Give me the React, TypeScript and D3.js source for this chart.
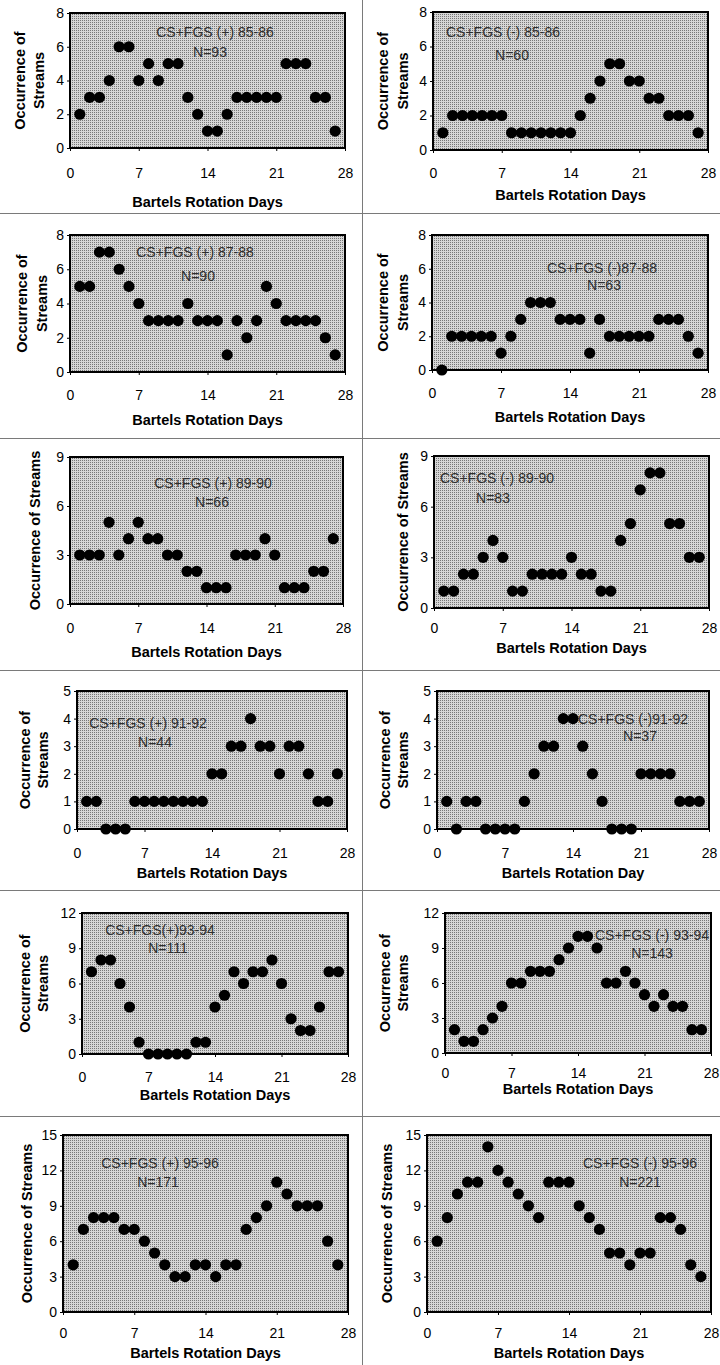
import React, { useRef, useEffect } from "react";
import * as d3 from "d3";

// Bartels rotation days (x values)
const days = [1, 2, 3, 4, 5, 6, 7, 8, 9, 10, 11, 12, 13, 14, 15, 16, 17, 18, 19, 20, 21, 22, 23, 24, 25, 26, 27];
const xTicks = [0, 7, 14, 21, 28];

// occurrence of streams per day
const plus8586 = [2, 3, 3, 4, 6, 6, 4, 5, 4, 5, 5, 3, 2, 1, 1, 2, 3, 3, 3, 3, 3, 5, 5, 5, 3, 3, 1];
const minus8586 = [1, 2, 2, 2, 2, 2, 2, 1, 1, 1, 1, 1, 1, 1, 2, 3, 4, 5, 5, 4, 4, 3, 3, 2, 2, 2, 1];
const plus8788 = [5, 5, 7, 7, 6, 5, 4, 3, 3, 3, 3, 4, 3, 3, 3, 1, 3, 2, 3, 5, 4, 3, 3, 3, 3, 2, 1];
const minus8788 = [0, 2, 2, 2, 2, 2, 1, 2, 3, 4, 4, 4, 3, 3, 3, 1, 3, 2, 2, 2, 2, 2, 3, 3, 3, 2, 1];
const plus8990 = [3, 3, 3, 5, 3, 4, 5, 4, 4, 3, 3, 2, 2, 1, 1, 1, 3, 3, 3, 4, 3, 1, 1, 1, 2, 2, 4];
const minus8990 = [1, 1, 2, 2, 3, 4, 3, 1, 1, 2, 2, 2, 2, 3, 2, 2, 1, 1, 4, 5, 7, 8, 8, 5, 5, 3, 3];
const plus9192 = [1, 1, 0, 0, 0, 1, 1, 1, 1, 1, 1, 1, 1, 2, 2, 3, 3, 4, 3, 3, 2, 3, 3, 2, 1, 1, 2];
const minus9192 = [1, 0, 1, 1, 0, 0, 0, 0, 1, 2, 3, 3, 4, 4, 3, 2, 1, 0, 0, 0, 2, 2, 2, 2, 1, 1, 1];
const plus9394 = [7, 8, 8, 6, 4, 1, 0, 0, 0, 0, 0, 1, 1, 4, 5, 7, 6, 7, 7, 8, 6, 3, 2, 2, 4, 7, 7];
const minus9394 = [2, 1, 1, 2, 3, 4, 6, 6, 7, 7, 7, 8, 9, 10, 10, 9, 6, 6, 7, 6, 5, 4, 5, 4, 4, 2, 2];
const plus9596 = [4, 7, 8, 8, 8, 7, 7, 6, 5, 4, 3, 3, 4, 4, 3, 4, 4, 7, 8, 9, 11, 10, 9, 9, 9, 6, 4];
const minus9596 = [6, 8, 10, 11, 11, 14, 12, 11, 10, 9, 8, 11, 11, 11, 9, 8, 7, 5, 5, 4, 5, 5, 8, 8, 7, 4, 3];

const seriesList = [plus8586, minus8586, plus8788, minus8788, plus8990, minus8990, plus9192, minus9192, plus9394, minus9394, plus9596, minus9596];
const labels = [
    "CS+FGS (+) 85-86", "CS+FGS (-) 85-86",
    "CS+FGS (+) 87-88", "CS+FGS (-)87-88",
    "CS+FGS (+) 89-90", "CS+FGS (-) 89-90",
    "CS+FGS (+) 91-92", "CS+FGS (-)91-92",
    "CS+FGS(+)93-94", "CS+FGS (-) 93-94",
    "CS+FGS (+) 95-96", "CS+FGS (-) 95-96",
];
const counts = ["N=93", "N=60", "N=90", "N=63", "N=66", "N=83", "N=44", "N=37", "N=111", "N=143", "N=171", "N=221"];
const yMax = [8, 8, 8, 8, 9, 9, 5, 5, 12, 12, 15, 15];
const yTicks = [
    [0, 2, 4, 6, 8], [0, 2, 4, 6, 8], [0, 2, 4, 6, 8], [0, 2, 4, 6, 8],
    [0, 3, 6, 9], [0, 3, 6, 9],
    [0, 1, 2, 3, 4, 5], [0, 1, 2, 3, 4, 5],
    [0, 3, 6, 9, 12], [0, 3, 6, 9, 12],
    [0, 3, 6, 9, 12, 15], [0, 3, 6, 9, 12, 15],
];
const xTitles = [
    "Bartels Rotation Days", "Bartels Rotation Days", "Bartels Rotation Days", "Bartels Rotation Days",
    "Bartels Rotation Days", "Bartels Rotation Days", "Bartels Rotation Days", "Bartels Rotation Day",
    "Bartels Rotation Days", "Bartels Rotation Days", "Bartels Rotation Days", "Bartels Rotation Days",
];

// page layout of each panel (plot box, label lines)
const layout = [
    { l: 70, t: 13, r: 345, b: 148, tickY: 178, titleY: 207, yt: [20, 39], ann: [[215, 37], [210, 57]] },
    { l: 433, t: 12, r: 708, b: 150, tickY: 178, titleY: 200, yt: [383, 403], ann: [[503, 37], [512, 60]] },
    { l: 70, t: 235, r: 345, b: 372, tickY: 400, titleY: 425, yt: [22, 42], ann: [[195, 257], [198, 281]] },
    { l: 432, t: 235, r: 708, b: 370, tickY: 398, titleY: 422, yt: [383, 403], ann: [[602, 273], [604, 290]] },
    { l: 70, t: 457, r: 343, b: 604, tickY: 633, titleY: 657, yt: [35], ann: [[213, 488], [212, 507]] },
    { l: 434, t: 456, r: 709, b: 608, tickY: 633, titleY: 653, yt: [403], ann: [[497, 483], [493, 503]] },
    { l: 77, t: 691, r: 347, b: 829, tickY: 858, titleY: 878, yt: [25, 43], ann: [[148, 728], [155, 747]] },
    { l: 437, t: 691, r: 709, b: 829, tickY: 858, titleY: 878, yt: [385, 403], ann: [[633, 724], [640, 741]] },
    { l: 82, t: 913, r: 348, b: 1054, tickY: 1082, titleY: 1100, yt: [25, 43], ann: [[160, 935], [168, 953]] },
    { l: 445, t: 913, r: 711, b: 1053, tickY: 1078, titleY: 1094, yt: [385, 403], ann: [[652, 940], [652, 958]] },
    { l: 63, t: 1135, r: 348, b: 1312, tickY: 1338, titleY: 1358, yt: [27], ann: [[160, 1168], [158, 1187]] },
    { l: 427, t: 1135, r: 711, b: 1312, tickY: 1338, titleY: 1358, yt: [387], ann: [[640, 1168], [640, 1187]] },
];

const W = 720;
const H = 1365;
const FONT = "'Liberation Sans', Arial, sans-serif";

function drawPanel(svg, i) {
    const p = layout[i];
    const data = seriesList[i];
    const x = d3.scaleLinear().domain([0, 28]).range([p.l, p.r]);
    const y = d3.scaleLinear().domain([0, yMax[i]]).range([p.b, p.t]);
    const g = svg.append("g").attr("class", "panel");

    // shaded plot box
    g.append("rect")
        .attr("x", p.l)
        .attr("y", p.t)
        .attr("width", p.r - p.l)
        .attr("height", p.b - p.t)
        .attr("fill", "url(#stipple)");

    // y axis
    const ya = g
        .append("g")
        .attr("transform", `translate(${p.l},0)`)
        .call(
            d3.axisLeft(y)
                .tickValues(yTicks[i])
                .tickFormat(d3.format("d"))
                .tickSize(3)
                .tickPadding(3)
        );
    ya.select(".domain").remove();
    ya.selectAll("text").attr("font-size", 14).attr("font-family", FONT).attr("fill", "#000");

    // x axis
    const xa = g
        .append("g")
        .attr("transform", `translate(0,${p.b})`)
        .call(
            d3.axisBottom(x)
                .tickValues(xTicks)
                .tickFormat(d3.format("d"))
                .tickSize(3)
                .tickPadding(p.tickY - p.b - 13)
        );
    xa.select(".domain").remove();
    xa.selectAll("text").attr("font-size", 14).attr("font-family", FONT).attr("fill", "#000");

    // annotation
    g.append("text")
        .attr("x", p.ann[0][0])
        .attr("y", p.ann[0][1])
        .attr("text-anchor", "middle")
        .attr("font-size", 14)
        .attr("font-family", FONT)
        .attr("fill", "#2e2e2e")
        .text(labels[i]);
    g.append("text")
        .attr("x", p.ann[1][0])
        .attr("y", p.ann[1][1])
        .attr("text-anchor", "middle")
        .attr("font-size", 14)
        .attr("font-family", FONT)
        .attr("fill", "#2e2e2e")
        .text(counts[i]);

    // frame
    g.append("rect")
        .attr("x", p.l)
        .attr("y", p.t)
        .attr("width", p.r - p.l)
        .attr("height", p.b - p.t)
        .attr("fill", "none")
        .attr("stroke", "#000")
        .attr("stroke-width", 2);

    // dots
    g.selectAll("circle")
        .data(data)
        .join("circle")
        .attr("cx", (d, k) => x(days[k]))
        .attr("cy", (d) => y(d))
        .attr("r", 5.6)
        .attr("fill", "#000");

    // axis titles
    g.append("text")
        .attr("x", (p.l + p.r) / 2)
        .attr("y", p.titleY)
        .attr("text-anchor", "middle")
        .attr("font-size", 14.5)
        .attr("font-weight", "bold")
        .attr("font-family", FONT)
        .text(xTitles[i]);

    const yLines = p.yt.length === 2 ? ["Occurrence of", "Streams"] : ["Occurrence of Streams"];
    const cy = (p.t + p.b) / 2;
    yLines.forEach((line, k) => {
        g.append("text")
            .attr("transform", `translate(${p.yt[k]},${cy}) rotate(-90)`)
            .attr("text-anchor", "middle")
            .attr("dominant-baseline", "central")
            .attr("font-size", 14.5)
            .attr("font-weight", "bold")
            .attr("font-family", FONT)
            .text(line);
    });
}

function draw(ref) {
    const svg = d3.select(ref);
    svg.selectAll("*").remove();

    const defs = svg.append("defs");
    const pat = defs
        .append("pattern")
        .attr("id", "stipple")
        .attr("width", 2)
        .attr("height", 2)
        .attr("patternUnits", "userSpaceOnUse");
    pat.append("rect").attr("width", 2).attr("height", 2).attr("fill", "#d6d6d6");
    pat.append("rect").attr("width", 1).attr("height", 1).attr("fill", "#777");

    svg.append("rect").attr("width", W).attr("height", H).attr("fill", "#fff");

    // separators between panels
    const sep = svg.append("g").attr("stroke", "#7a7a7a").attr("stroke-width", 1);
    sep.append("line").attr("x1", 362.5).attr("x2", 362.5).attr("y1", 0).attr("y2", H);
    [213.5, 438.5, 670.5, 890.5, 1116.5].forEach((yy) => {
        sep.append("line").attr("x1", 0).attr("x2", W).attr("y1", yy).attr("y2", yy);
    });

    seriesList.forEach((_s, i) => drawPanel(svg, i));
}

export default function App() {
    const ref = useRef(null);
    useEffect(() => {
        if (ref.current) draw(ref.current);
    }, []);
    return (
        <svg
            ref={ref}
            width={W}
            height={H}
            style={{ position: "absolute", left: 0, top: 0, display: "block" }}
        />
    );
}
